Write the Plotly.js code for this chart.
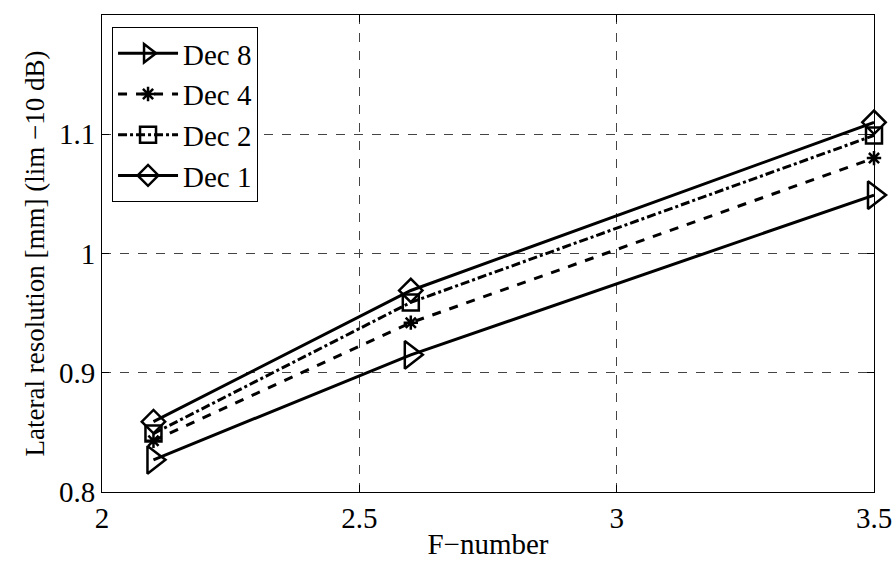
<!DOCTYPE html>
<html>
<head>
<meta charset="utf-8">
<script src="https://cdn.plot.ly/plotly-3.0.1.min.js"></script>
<style>html,body{margin:0;padding:0;background:#fff}#chart{width:896px;height:569px}</style>
</head>
<body>
<div id="chart"></div>
<script>
const fNumber = [2.1, 2.6, 3.5];
const dec8 = [0.827, 0.915, 1.049];
const dec4 = [0.843, 0.942, 1.080];
const dec2 = [0.849, 0.959, 1.099];
const dec1 = [0.859, 0.969, 1.110];
const seriesNames = ['Dec 8', 'Dec 4', 'Dec 2', 'Dec 1'];
const xTicks = [2, 2.5, 3, 3.5];
const xTickText = ['2', '2.5', '3', '3.5'];
const yTicks = [0.8, 0.9, 1.0, 1.1];
const yTickText = ['0.8', '0.9', '1', '1.1'];

const FAM = "'Liberation Serif', 'Times New Roman', Times, 'DejaVu Serif', serif";
function tr(y, name, dash, symbol, size) {
  return {
    x: fNumber, y: y, name: name, type: 'scatter', mode: 'lines+markers',
    line: {color: '#000', width: 3, dash: dash},
    marker: {symbol: symbol, size: size, color: '#000', line: {color: '#000', width: 2.5}},
    cliponaxis: false
  };
}
const data = [
  tr(dec8, seriesNames[0], 'solid', 'triangle-right-open', 24),
  tr(dec4, seriesNames[1], 'dash', 'asterisk-open', 12),
  tr(dec2, seriesNames[2], 'dashdot', 'square-open', 16),
  tr(dec1, seriesNames[3], 'solid', 'diamond-open', 18)
];
const fnt = (s) => ({family: FAM, size: s, color: '#000'});
const layout = {
  width: 896, height: 569,
  margin: {l: 102, r: 22, t: 15, b: 77},
  paper_bgcolor: '#fff', plot_bgcolor: '#fff',
  font: fnt(29),
  showlegend: true,
  legend: {x: 0.013, y: 0.975, xanchor: 'left', yanchor: 'top',
           bordercolor: '#000', borderwidth: 1, bgcolor: '#fff',
           font: fnt(29), itemwidth: 60, tracegroupgap: 0},
  xaxis: {range: [2, 3.5], tickvals: xTicks, ticktext: xTickText,
          showline: true, linecolor: '#000', linewidth: 1, mirror: 'ticks',
          ticks: 'inside', ticklen: 7, tickcolor: '#000',
          showgrid: true, gridcolor: '#444', griddash: 'dash', gridwidth: 1,
          zeroline: false, tickfont: fnt(29),
          title: {text: 'F\u2212number', font: fnt(29), standoff: 0}},
  yaxis: {range: [0.8, 1.2], tickvals: yTicks, ticktext: yTickText,
          showline: true, linecolor: '#000', linewidth: 1, mirror: 'ticks',
          ticks: 'inside', ticklen: 7, tickcolor: '#000',
          showgrid: true, gridcolor: '#444', griddash: 'dash', gridwidth: 1,
          zeroline: false, tickfont: fnt(29),
          title: {text: 'Lateral resolution [mm] (lim \u221210 dB)', font: fnt(27), standoff: 6}}
};
Plotly.newPlot('chart', data, layout, {displayModeBar: false, staticPlot: true});
</script>
</body>
</html>
